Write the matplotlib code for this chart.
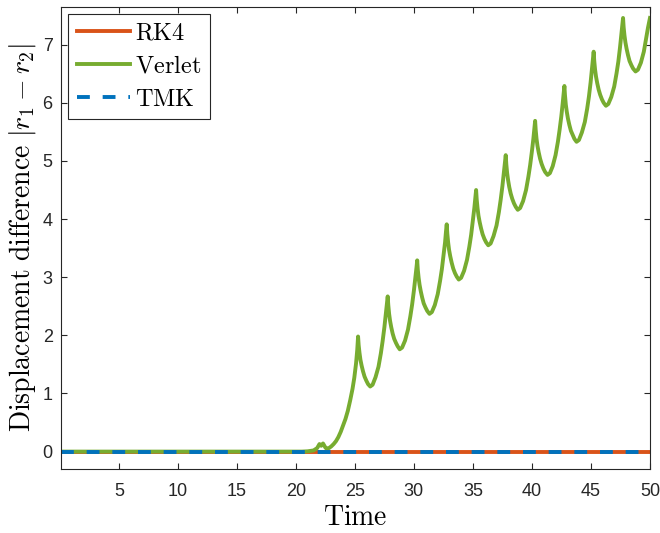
import matplotlib.pyplot as plt
import numpy as np

plt.rcParams['mathtext.fontset'] = 'cm'
plt.rcParams['font.family'] = ['Liberation Sans', 'DejaVu Sans']

# Time grid for the flat solvers
t_flat = [0.1, 10.0, 20.0, 30.0, 40.0, 50.0]
rk4 = [0, 0, 0, 0, 0, 0]
tmk = [0, 0, 0, 0, 0, 0]

# Verlet displacement difference
t_verlet = [0.1, 20.5, 21.0, 21.5, 21.8, 22.0, 22.15, 22.3, 22.5, 22.6, 22.8,
            23.0, 23.2, 23.4, 23.6, 23.8, 24.0, 24.2, 24.4, 24.6, 24.8,
            24.95, 25.1, 25.2, 25.27,
            25.32, 25.39, 25.47, 25.57, 25.69, 25.82, 25.97, 26.12, 26.30,
            26.50, 26.75, 27.00, 27.20, 27.35, 27.50, 27.62, 27.72, 27.78,
            27.83, 27.90, 27.98, 28.08, 28.20, 28.33, 28.48, 28.63, 28.80,
            29.00, 29.25, 29.50, 29.70, 29.85, 30.00, 30.12, 30.22, 30.28,
            30.33, 30.40, 30.48, 30.58, 30.70, 30.83, 30.98, 31.13, 31.32,
            31.52, 31.77, 32.02, 32.22, 32.37, 32.52, 32.64, 32.72, 32.78,
            32.83, 32.90, 32.98, 33.08, 33.20, 33.33, 33.48, 33.63, 33.80,
            34.00, 34.25, 34.50, 34.70, 34.85, 35.00, 35.12, 35.21, 35.27,
            35.32, 35.39, 35.47, 35.57, 35.69, 35.82, 35.97, 36.12, 36.30,
            36.50, 36.75, 37.00, 37.20, 37.35, 37.50, 37.62, 37.72, 37.78,
            37.83, 37.90, 37.98, 38.08, 38.20, 38.33, 38.48, 38.63, 38.80,
            39.00, 39.25, 39.50, 39.70, 39.85, 40.00, 40.12, 40.21, 40.27,
            40.32, 40.39, 40.47, 40.57, 40.69, 40.82, 40.97, 41.12, 41.32,
            41.52, 41.76, 42.00, 42.20, 42.34, 42.49, 42.60, 42.69, 42.75,
            42.80, 42.87, 42.95, 43.05, 43.17, 43.30, 43.45, 43.60, 43.78,
            43.98, 44.23, 44.48, 44.68, 44.83, 44.97, 45.08, 45.17, 45.23,
            45.28, 45.35, 45.43, 45.53, 45.65, 45.78, 45.93, 46.08, 46.27,
            46.47, 46.72, 46.97, 47.17, 47.32, 47.46, 47.57, 47.66, 47.72,
            47.77, 47.84, 47.92, 48.02, 48.14, 48.27, 48.42, 48.57, 48.78,
            48.98, 49.23, 49.48, 49.68, 49.83, 50.00]
verlet = [0, 0, 0.005, 0.02, 0.06, 0.13, 0.10, 0.14, 0.07, 0.05, 0.06,
          0.09, 0.13, 0.18, 0.25, 0.34, 0.45, 0.56, 0.70, 0.88, 1.08,
          1.27, 1.52, 1.75, 1.98,
          1.83, 1.70, 1.58, 1.48, 1.38, 1.29, 1.22, 1.16, 1.12,
          1.15, 1.28, 1.46, 1.69, 1.90, 2.14, 2.36, 2.55, 2.67,
          2.52, 2.37, 2.25, 2.14, 2.03, 1.94, 1.87, 1.81, 1.76,
          1.79, 1.91, 2.10, 2.33, 2.53, 2.77, 2.98, 3.17, 3.29,
          3.13, 2.99, 2.87, 2.76, 2.65, 2.55, 2.48, 2.42, 2.37,
          2.40, 2.52, 2.71, 2.94, 3.14, 3.39, 3.60, 3.79, 3.91,
          3.75, 3.60, 3.47, 3.36, 3.25, 3.15, 3.07, 3.01, 2.96,
          2.99, 3.11, 3.30, 3.53, 3.73, 3.98, 4.19, 4.38, 4.50,
          4.34, 4.19, 4.06, 3.95, 3.84, 3.74, 3.66, 3.60, 3.55,
          3.58, 3.71, 3.89, 4.12, 4.33, 4.57, 4.79, 4.98, 5.10,
          4.94, 4.79, 4.67, 4.55, 4.44, 4.35, 4.27, 4.21, 4.16,
          4.19, 4.31, 4.50, 4.73, 4.93, 5.17, 5.38, 5.57, 5.69,
          5.53, 5.38, 5.26, 5.15, 5.04, 4.95, 4.87, 4.81, 4.76,
          4.79, 4.91, 5.10, 5.33, 5.53, 5.77, 5.98, 6.17, 6.29,
          6.13, 5.97, 5.85, 5.73, 5.62, 5.52, 5.45, 5.38, 5.33,
          5.36, 5.49, 5.67, 5.90, 6.11, 6.35, 6.57, 6.76, 6.88,
          6.72, 6.57, 6.45, 6.34, 6.23, 6.14, 6.06, 6.00, 5.95,
          5.98, 6.10, 6.28, 6.51, 6.71, 6.95, 7.16, 7.34, 7.46,
          7.30, 7.16, 7.04, 6.93, 6.82, 6.72, 6.65, 6.59, 6.54,
          6.57, 6.69, 6.88, 7.11, 7.29, 7.46]

x_ticks = [5, 10, 15, 20, 25, 30, 35, 40, 45, 50]
y_ticks = [0, 1, 2, 3, 4, 5, 6, 7]

fig = plt.figure(figsize=(6.6, 5.33), dpi=100)
ax = fig.add_axes([0.0924, 0.12, 0.8924, 0.867])

lw = 2.8
ax.plot(t_flat, rk4, color='#D95319', lw=lw, label=r'$\mathrm{RK4}$')
ax.plot(t_verlet, verlet, color='#77AC30', lw=lw, label=r'$\mathrm{Verlet}$')
ax.plot(t_flat, tmk, color='#0072BD', lw=lw, linestyle=(0, (3.3, 3.3)),
        label=r'$\mathrm{TMK}$')

ax.set_xlim(0.1, 50)
ax.set_ylim(-0.3, 7.65)
ax.set_xticks(x_ticks)
ax.set_yticks(y_ticks)

ax.set_xlabel(r'$\mathrm{Time}$', fontsize=20, labelpad=4)
ax.set_ylabel(r'$\mathrm{Displacement\ difference}\ |r_1-r_2|$', fontsize=20, labelpad=3)

ax.tick_params(direction='in', top=True, right=True, labelsize=13,
               colors='#262626', length=4, width=0.8)
ax.tick_params(axis='x', pad=10)
ax.tick_params(axis='y', pad=6)
for s in ax.spines.values():
    s.set_color('#262626')
    s.set_linewidth(0.8)

leg = ax.legend(loc='upper left', fontsize=17.5, handlelength=2.2,
                handletextpad=0.2, borderaxespad=0.3, borderpad=0.35,
                labelspacing=0.45, fancybox=False, framealpha=1)
leg.get_frame().set_edgecolor('#262626')
leg.get_frame().set_linewidth(0.8)

fig.savefig('out.png', dpi=100)
